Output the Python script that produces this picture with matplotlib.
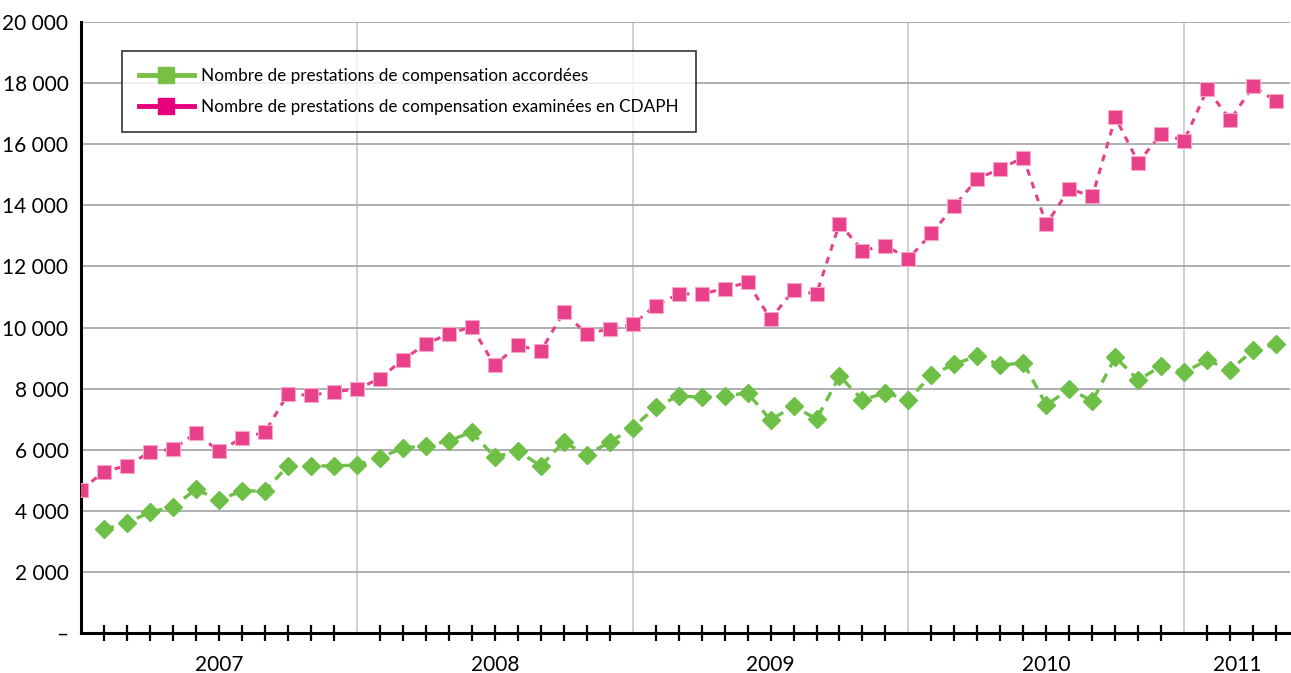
import matplotlib
matplotlib.use("Agg")
import matplotlib.pyplot as plt
from matplotlib.lines import Line2D
from matplotlib.ticker import FixedLocator, FuncFormatter
import numpy as np

plt.rcParams['font.family'] = ['Lato', 'DejaVu Sans']

# mois depuis janvier 2007 (0 = début 2007)
mois_examinees = list(range(0, 53))
examinees = [4680, 5280, 5480, 5920, 6020, 6550, 5950, 6380, 6570, 7820,
             7780, 7900, 7980, 8330, 8950, 9450, 9800, 10020, 8760, 9430,
             9220, 10500, 9800, 9950, 10100, 10720, 11100, 11100, 11270, 11480,
             10280, 11220, 11100, 13400, 12520, 12680, 12250, 13080, 13980, 14870,
             15200, 15560, 13380, 14540, 14290, 16880, 15400, 16350, 16120, 17800,
             16800, 17900, 17400]

mois_accordees = list(range(1, 53))
accordees = [3400, 3600, 3960, 4120, 4710, 4350, 4650, 4650, 5470,
             5470, 5470, 5500, 5730, 6060, 6120, 6290, 6580, 5760, 5960,
             5470, 6250, 5830, 6250, 6710, 7400, 7760, 7720, 7760, 7860,
             6970, 7430, 7000, 8410, 7630, 7860, 7630, 8450, 8800, 9070,
             8770, 8840, 7460, 7990, 7590, 9030, 8280, 8740, 8540, 8930,
             8610, 9260, 9460]

annees = ['2007', '2008', '2009', '2010', '2011']
debut_annees = [0, 12, 24, 36, 48]

vert = '#6dbf45'
rose = '#e8408a'

W, H = 1291, 673
fig = plt.figure(figsize=(W / 100, H / 100), dpi=100)
ax = fig.add_axes([81 / W, 1 - 633 / H, (1290 - 81) / W, (633 - 22) / H])

ax.plot(mois_accordees, accordees, color=vert, ls=(0, (3, 2.2)), lw=2.4,
        marker='D', ms=9, mec=vert, mfc=vert, zorder=3)
ax.plot(mois_examinees, examinees, color=rose, ls=(0, (2.2, 2.2)), lw=2.2,
        marker='s', ms=9.5, mec='#f7a8c8', mew=0.8, mfc=rose, zorder=3)

ax.set_xlim(0, 52.6)
ax.set_ylim(0, 20000)

ax.yaxis.set_major_locator(FixedLocator(np.arange(0, 20001, 2000)))
ax.yaxis.set_major_formatter(FuncFormatter(
    lambda v, p: '–' if v == 0 else f'{int(v):,}'.replace(',', ' ')))
ax.tick_params(axis='y', length=0, pad=9, labelsize=15)
ax.grid(axis='y', color='#a8a9ad', lw=1.3)

# graduations mensuelles, lignes verticales aux changements d'année
ax.xaxis.set_major_locator(FixedLocator([m for m in range(1, 53) if m % 12]))
ax.set_xticklabels([])
ax.tick_params(axis='x', direction='inout', length=11, width=1.6, color='black')
for d in debut_annees[1:]:
    ax.axvline(d, color='#c8c8c8', lw=1.2, zorder=1)

for a, d in zip(annees, debut_annees):
    fin = min(d + 12, 52.6)
    ax.text((d + fin) / 2, -0.036, a, transform=ax.get_xaxis_transform(),
            ha='center', va='top', fontsize=15)

for s in ['top', 'right']:
    ax.spines[s].set_visible(False)
for s in ['left', 'bottom']:
    ax.spines[s].set_linewidth(2.2)

handles = [
    Line2D([], [], color='#77c043', lw=3.5, marker='s', ms=11,
           label='Nombre de prestations de compensation accordées'),
    Line2D([], [], color='#e6007e', lw=3.5, marker='s', ms=11,
           label='Nombre de prestations de compensation examinées en CDAPH'),
]
leg = ax.legend(handles=handles, loc='upper left',
                bbox_to_anchor=((122 - 81) / (1290 - 81), 1 - (51 - 22) / (633 - 22)),
                fontsize=12.3, frameon=True, fancybox=False, edgecolor='black',
                handlelength=3.2, handletextpad=0.45, borderpad=1.0,
                labelspacing=0.85, borderaxespad=0)
leg.get_frame().set_linewidth(1.2)

fig.savefig('out.png', dpi=100)
